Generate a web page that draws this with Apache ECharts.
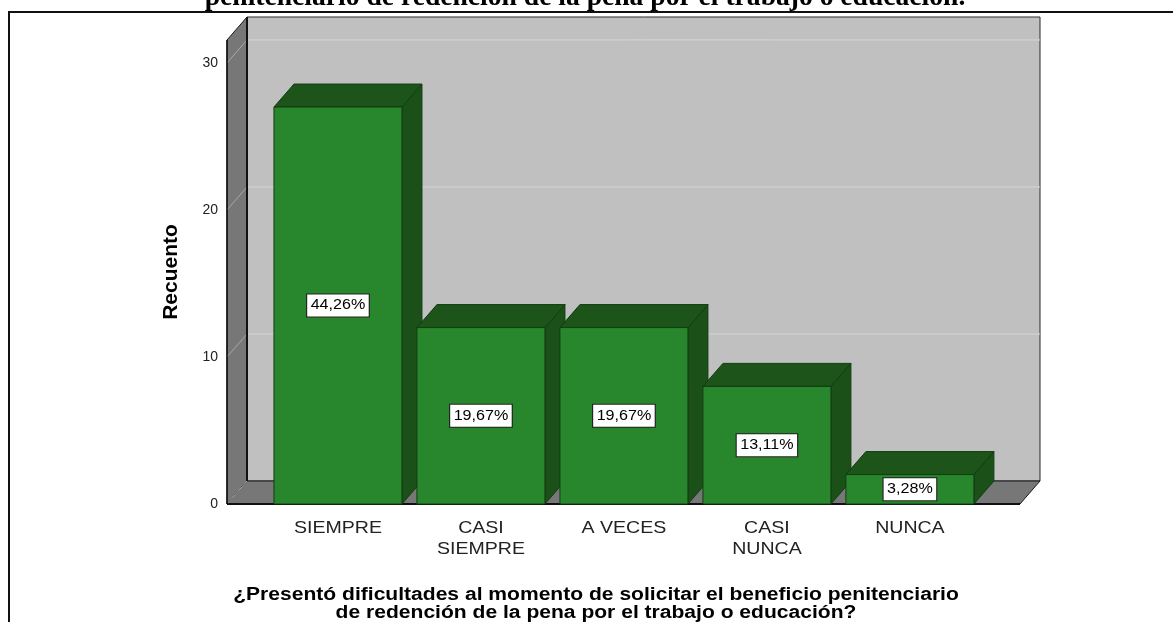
<!DOCTYPE html>
<html>
<head>
<meta charset="utf-8">
<script src="https://cdn.jsdelivr.net/npm/echarts@6/dist/echarts.min.js"></script>
<style>
html,body{margin:0;padding:0;background:#fff;}
#chart{width:1173px;height:622px;}
</style>
</head>
<body>
<div id="chart"></div>
<script>
// ---- data ----
const categories = ['SIEMPRE', 'CASI\nSIEMPRE', 'A VECES', 'CASI\nNUNCA', 'NUNCA'];
const counts = [27, 12, 12, 8, 2];
const percentLabels = ['44,26%', '19,67%', '19,67%', '13,11%', '3,28%'];
const yTicks = [0, 10, 20, 30];
const chartTitle = 'penitenciario de redención de la pena por el trabajo o educación.';
const xTitle = '¿Presentó dificultades al momento de solicitar el beneficio penitenciario\nde redención de la pena por el trabajo o educación?';
const yTitle = 'Recuento';

// ---- layout ----
const X_MIN = -0.776, X_MAX = 4.77, Y_MAX = 31.56;
const DX = 20, DY = -23, BAR_HALF = 0.4476;
const STRETCH = 1.15;
const SANS = 'Liberation Sans, Arial, sans-serif';
const SERIF = 'Liberation Serif, Times New Roman, serif';

const chart = echarts.init(document.getElementById('chart'), null, {renderer: 'canvas'});

function wallsRender(params, api) {
  const p00 = api.coord([X_MIN, 0]);
  const p01 = api.coord([X_MIN, Y_MAX]);
  const p10 = api.coord([X_MAX, 0]);
  const sh = p => [p[0] + DX, p[1] + DY];
  const children = [];
  const b1 = sh(p01), b2 = sh(p10);
  children.push({type: 'rect', shape: {x: b1[0], y: b1[1], width: b2[0] - b1[0], height: b2[1] - b1[1]},
    style: {fill: '#C0C0C0', stroke: '#2a2a2a', lineWidth: 1}});
  children.push({type: 'polygon', shape: {points: [p00, p01, sh(p01), sh(p00)]},
    style: {fill: '#777777', stroke: '#1a1a1a', lineWidth: 1}});
  children.push({type: 'polygon', shape: {points: [p00, p10, sh(p10), sh(p00)]},
    style: {fill: '#777777', stroke: '#1a1a1a', lineWidth: 1}});
  yTicks.forEach(t => {
    const c = api.coord([X_MIN, t]);
    if (t > 0) {
      children.push({type: 'line', shape: {x1: c[0] + DX, y1: c[1] + DY, x2: p10[0] + DX, y2: c[1] + DY},
        style: {stroke: '#D6D6D6', lineWidth: 1}});
    }
    children.push({type: 'line', shape: {x1: c[0], y1: c[1], x2: c[0] + DX, y2: c[1] + DY},
      style: {stroke: '#A8A8A8', lineWidth: 1}});
  });
  children.push({type: 'line', shape: {x1: p00[0], y1: p00[1], x2: p10[0], y2: p10[1]},
    style: {stroke: '#111', lineWidth: 2}});
  children.push({type: 'line', shape: {x1: p00[0], y1: p00[1], x2: p01[0], y2: p01[1]},
    style: {stroke: '#111', lineWidth: 1.5}});
  const bb = sh(p00), bt = sh(p01);
  children.push({type: 'line', shape: {x1: bb[0], y1: bb[1], x2: bt[0], y2: bt[1]},
    style: {stroke: '#111', lineWidth: 2}});
  return {type: 'group', children};
}

function barsRender(params, api) {
  const i = api.value(0), v = api.value(1);
  const lt = api.coord([i - BAR_HALF, v]);
  const rb = api.coord([i + BAR_HALF, 0]);
  const mid = api.coord([i, v / 2]);
  const xl = lt[0], yt = lt[1], xr = rb[0], y0 = rb[1];
  const edge = '#123C12';
  return {
    type: 'group',
    children: [
      {type: 'polygon', shape: {points: [[xr, yt], [xr + DX, yt + DY], [xr + DX, y0 + DY], [xr, y0]]},
        style: {fill: '#1B5119', stroke: edge, lineWidth: 1}},
      {type: 'polygon', shape: {points: [[xl, yt], [xl + DX, yt + DY], [xr + DX, yt + DY], [xr, yt]]},
        style: {fill: '#1C541A', stroke: edge, lineWidth: 1}},
      {type: 'rect', shape: {x: xl, y: yt, width: xr - xl, height: y0 - yt},
        style: {fill: '#28872D', stroke: edge, lineWidth: 1}},
      {type: 'text', x: mid[0], y: mid[1], scaleX: STRETCH,
        style: {text: percentLabels[i], align: 'center', verticalAlign: 'middle',
          font: '14px ' + SANS, fill: '#000', backgroundColor: '#fff',
          borderColor: '#222', borderWidth: 1, padding: [4, 3]}},
      {type: 'text', x: api.coord([i, 0])[0], y: y0 + 14, scaleX: STRETCH,
        style: {text: categories[i], align: 'center', verticalAlign: 'top',
          font: '17px ' + SANS, lineHeight: 21, fill: '#222'}}
    ]
  };
}

chart.setOption({
  animation: false,
  backgroundColor: '#fff',
  grid: {left: 227, right: 153, top: 40, bottom: 118, containLabel: false},
  xAxis: {type: 'value', min: X_MIN, max: X_MAX, show: false},
  yAxis: {
    type: 'value', min: 0, max: Y_MAX, interval: 10,
    axisLine: {show: false}, axisTick: {show: false}, splitLine: {show: false},
    axisLabel: {margin: 9, fontSize: 14, color: '#222', fontFamily: SANS, padding: [6, 0, 0, 0],
      formatter: v => (yTicks.indexOf(v) >= 0 ? String(v) : '')},
    name: yTitle, nameLocation: 'middle', nameRotate: 90, nameGap: 45,
    nameTextStyle: {fontSize: 21, fontWeight: 'bold', color: '#000', fontFamily: SANS}
  },
  graphic: [
    {type: 'rect', z: 100, shape: {x: 9, y: 12, width: 1200, height: 700},
      style: {fill: 'none', stroke: '#111', lineWidth: 2}},
    {type: 'text', z: 100, x: 585, y: 12,
      style: {text: chartTitle, align: 'center', verticalAlign: 'bottom',
        font: 'bold 27.6px ' + SERIF, fill: '#000'}},
    {type: 'text', z: 100, x: 596, y: 586, scaleX: 1.17,
      style: {text: xTitle, align: 'center', verticalAlign: 'top',
        font: 'bold 18px ' + SANS, lineHeight: 18, fill: '#000'}}
  ],
  series: [
    {type: 'custom', z: 1, silent: true, renderItem: wallsRender, data: [[0]], clip: false},
    {type: 'custom', z: 2, silent: true, renderItem: barsRender,
      data: counts.map((v, i) => [i, v]), clip: false}
  ]
});
</script>
</body>
</html>
